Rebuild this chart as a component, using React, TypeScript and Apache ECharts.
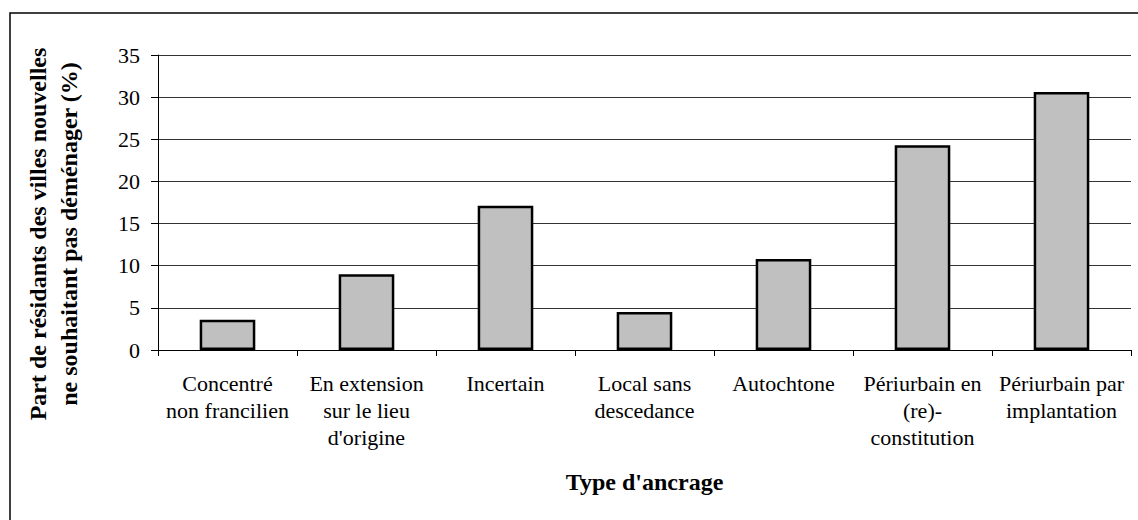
import React, { useEffect, useRef } from "react";
import * as echarts from "echarts";

const categories = [
  "Concentré\nnon francilien",
  "En extension\nsur le lieu\nd'origine",
  "Incertain",
  "Local sans\ndescedance",
  "Autochtone",
  "Périurbain en\n(re)-\nconstitution",
  "Périurbain par\nimplantation",
];
const values = [3.6, 9.0, 17.1, 4.5, 10.8, 24.3, 30.6];
const yTitle = "Part de résidants des villes nouvelles\nne souhaitant pas déménager (%)";
const xTitle = "Type d'ancrage";

const FONT = "Liberation Serif, Times New Roman, serif";

export default function App() {
  const ref = useRef<HTMLDivElement>(null);
  useEffect(() => {
    if (!ref.current) return;
    const chart = echarts.init(ref.current, null, { renderer: "svg" });
    chart.setOption({
      animation: false,
      backgroundColor: "#ffffff",
      textStyle: { fontFamily: FONT },
      graphic: [
        {
          type: "rect",
          shape: { x: 10, y: 13, width: 1150, height: 540 },
          style: { fill: "none", stroke: "#000", lineWidth: 1.5 },
          silent: true,
        },
        {
          type: "text",
          x: 53,
          y: 234,
          rotation: Math.PI / 2,
          silent: true,
          style: {
            text: yTitle,
            align: "center",
            verticalAlign: "middle",
            fontFamily: FONT,
            fontSize: 24,
            fontWeight: "bold",
            lineHeight: 31,
            fill: "#000",
          },
        },
      ],
      grid: { left: 158, right: 7, top: 55, bottom: 170 },
      xAxis: {
        type: "category",
        data: categories,
        name: xTitle,
        nameLocation: "middle",
        nameGap: 118,
        nameTextStyle: { fontFamily: FONT, fontSize: 24, fontWeight: "bold", color: "#000", lineHeight: 28 },
        axisLine: { lineStyle: { color: "#000", width: 1 } },
        axisTick: { show: true, length: 6, alignWithLabel: false, lineStyle: { color: "#000" } },
        axisLabel: {
          interval: 0,
          margin: 20,
          fontFamily: FONT,
          fontSize: 22,
          lineHeight: 27,
          color: "#000",
        },
        splitLine: { show: false },
      },
      yAxis: {
        type: "value",
        min: 0,
        max: 35,
        interval: 5,
        axisLine: { show: true, lineStyle: { color: "#000", width: 1 } },
        axisTick: { show: true, length: 7, lineStyle: { color: "#000" } },
        axisLabel: { margin: 18, fontFamily: FONT, fontSize: 22, color: "#000" },
        splitLine: { show: true, lineStyle: { color: "#333", width: 1 } },
      },
      series: [
        {
          type: "bar",
          data: values,
          barWidth: "40%",
          itemStyle: { color: "#c0c0c0", borderColor: "#000", borderWidth: 2.5 },
        },
      ],
    });
    return () => chart.dispose();
  }, []);
  return (
    <div
      ref={ref}
      style={{ position: "fixed", left: 0, top: 0, width: 1138, height: 520 }}
    />
  );
}
